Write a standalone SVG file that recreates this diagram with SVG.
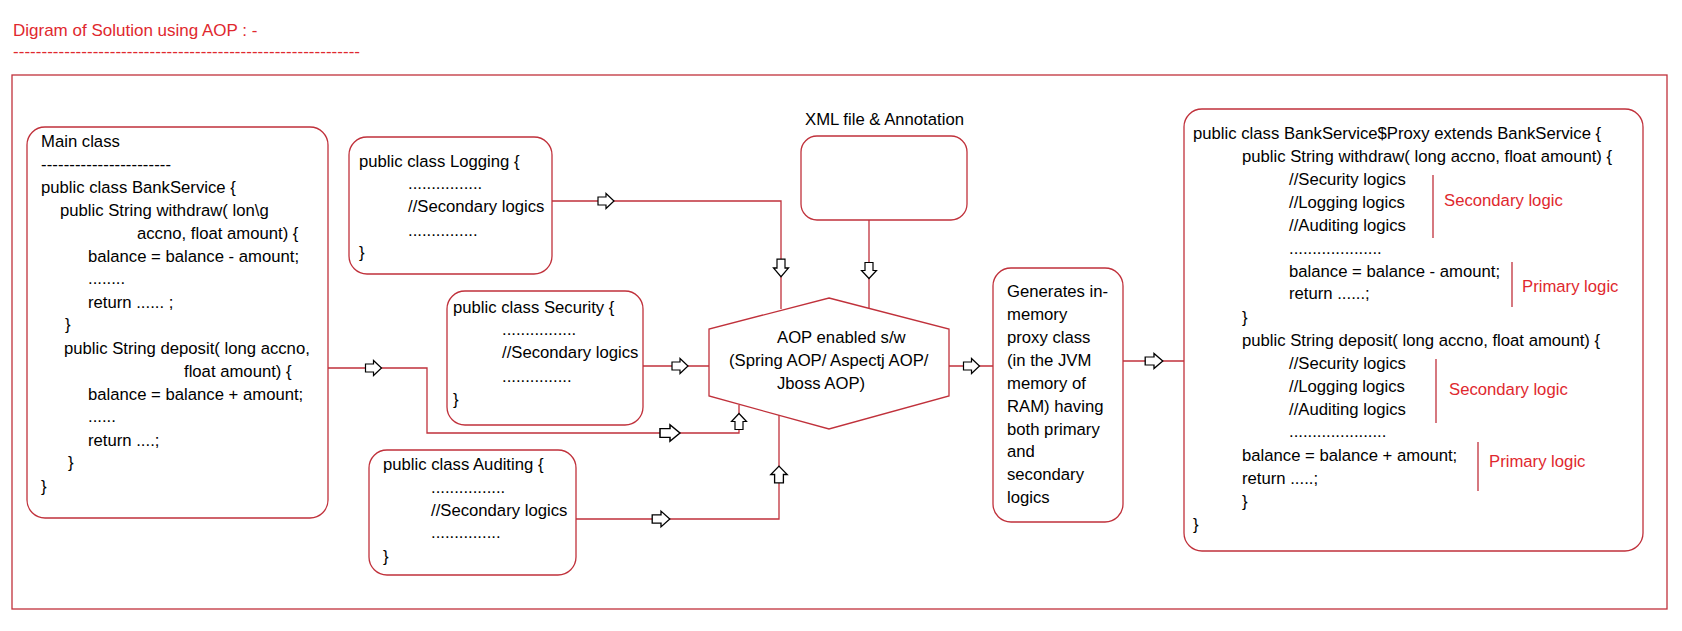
<svg xmlns="http://www.w3.org/2000/svg" width="1682" height="631" viewBox="0 0 1682 631">
<style>
.bx{fill:#fff;stroke:#c0313b;stroke-width:1.3}
.ln{fill:none;stroke:#c0313b;stroke-width:1.3}
.t{font-family:"Liberation Sans",Arial,sans-serif;font-size:16.7px;fill:#000}
.r{fill:#e0282e}
.ttl{font-family:"Liberation Sans",Arial,sans-serif;font-size:17px;fill:#e0282e}
.ar{fill:#fff;stroke:#000;stroke-width:1.2}
</style>
<defs>
<path id="arr" d="M-8,-4 H0 V-7.5 L8,0 L0,7.5 V4 H-8 Z"/>
</defs>
<rect width="1682" height="631" fill="#fff"/>
<g id="title">
<text class="ttl" x="13" y="36">Digram of Solution using AOP : -</text>
<text class="ttl" x="13" y="57" textLength="347" lengthAdjust="spacing">-------------------------------------------------------------</text>
</g>
<rect id="frame" class="ln" x="12" y="75" width="1655" height="534"/>
<g id="connectors">
<polyline class="ln" points="328,368 427,368 427,433 739,433 739,405"/>
<polyline class="ln" points="576,519 779,519 779,415"/>
<polyline class="ln" points="552,201 781,201 781,309"/>
<line class="ln" x1="869" y1="220" x2="869" y2="308"/>
<line class="ln" x1="643" y1="366" x2="709" y2="366"/>
<line class="ln" x1="949" y1="366" x2="993" y2="366"/>
<line class="ln" x1="1123" y1="361" x2="1184" y2="361"/>
<use href="#arr" class="ar" transform="translate(373.5,368)"/>
<use href="#arr" class="ar" transform="translate(670,433) scale(1.25,1.1)"/>
<use href="#arr" class="ar" transform="translate(739,421.5) rotate(-90)"/>
<use href="#arr" class="ar" transform="translate(661,519) scale(1.1,1.05)"/>
<use href="#arr" class="ar" transform="translate(779,474.5) rotate(-90) scale(1.05,1.1)"/>
<use href="#arr" class="ar" transform="translate(606,201)"/>
<use href="#arr" class="ar" transform="translate(781,268) rotate(90) scale(1.1,1)"/>
<use href="#arr" class="ar" transform="translate(869,270.5) rotate(90)"/>
<use href="#arr" class="ar" transform="translate(680,366)"/>
<use href="#arr" class="ar" transform="translate(971.5,366)"/>
<use href="#arr" class="ar" transform="translate(1154,361) scale(1.1,1)"/>
</g>
<g id="main">
<rect class="bx" x="27" y="127" width="301" height="391" rx="18"/>
<text class="t" x="41" y="147">Main class</text>
<text class="t" x="41" y="170" textLength="130" lengthAdjust="spacing">-----------------------</text>
<text class="t" x="41" y="193">public class BankService {</text>
<text class="t" x="60" y="216">public String withdraw( lon\g</text>
<text class="t" x="137" y="239">accno, float amount) {</text>
<text class="t" x="88" y="262">balance = balance - amount;</text>
<text class="t" x="88" y="284">........</text>
<text class="t" x="88" y="308">return ...... ;</text>
<text class="t" x="65" y="330">}</text>
<text class="t" x="64" y="354">public String deposit( long accno,</text>
<text class="t" x="184" y="377">float amount) {</text>
<text class="t" x="88" y="400">balance = balance + amount;</text>
<text class="t" x="88" y="422">......</text>
<text class="t" x="88" y="446">return ....;</text>
<text class="t" x="68" y="468">}</text>
<text class="t" x="41" y="492">}</text>
</g>
<g id="logging">
<rect class="bx" x="349" y="137" width="203" height="137" rx="18"/>
<text class="t" x="359" y="167">public class Logging {</text>
<text class="t" x="408" y="189">................</text>
<text class="t" x="408" y="212">//Secondary logics</text>
<text class="t" x="408" y="236">...............</text>
<text class="t" x="359" y="258">}</text>
</g>
<g id="security">
<rect class="bx" x="447" y="291" width="196" height="134" rx="18"/>
<text class="t" x="453" y="313">public class Security {</text>
<text class="t" x="502" y="335">................</text>
<text class="t" x="502" y="358">//Secondary logics</text>
<text class="t" x="502" y="382">...............</text>
<text class="t" x="453" y="405">}</text>
</g>
<g id="auditing">
<rect class="bx" x="369" y="450" width="207" height="125" rx="18"/>
<text class="t" x="383" y="470">public class Auditing {</text>
<text class="t" x="431" y="493">................</text>
<text class="t" x="431" y="516">//Secondary logics</text>
<text class="t" x="431" y="538">...............</text>
<text class="t" x="383" y="562">}</text>
</g>
<g id="xml">
<text class="t" x="805" y="125">XML file &amp; Annotation</text>
<rect class="bx" x="801" y="136" width="166" height="84" rx="16"/>
</g>
<g id="aop">
<polygon class="bx" points="829,298 949,329 949,396 829,429 709,396 709,329"/>
<text class="t" x="777" y="343">AOP enabled s/w</text>
<text class="t" x="729" y="366">(Spring AOP/ Aspectj AOP/</text>
<text class="t" x="777" y="389">Jboss AOP)</text>
</g>
<g id="generates">
<rect class="bx" x="993" y="268" width="130" height="254" rx="18"/>
<text class="t" x="1007" y="297">Generates in-</text>
<text class="t" x="1007" y="320">memory</text>
<text class="t" x="1007" y="343">proxy class</text>
<text class="t" x="1007" y="366">(in the JVM</text>
<text class="t" x="1007" y="389">memory of</text>
<text class="t" x="1007" y="412">RAM) having</text>
<text class="t" x="1007" y="435">both primary</text>
<text class="t" x="1007" y="457">and</text>
<text class="t" x="1007" y="480">secondary</text>
<text class="t" x="1007" y="503">logics</text>
</g>
<g id="proxy">
<rect class="bx" x="1184" y="109" width="459" height="442" rx="18"/>
<text class="t" x="1193" y="139">public class BankService$Proxy extends BankService {</text>
<text class="t" x="1242" y="162">public String withdraw( long accno, float amount) {</text>
<text class="t" x="1289" y="185">//Security logics</text>
<text class="t" x="1289" y="208">//Logging logics</text>
<text class="t" x="1289" y="231">//Auditing logics</text>
<text class="t" x="1289" y="254">....................</text>
<text class="t" x="1289" y="277">balance = balance - amount;</text>
<text class="t" x="1289" y="299">return ......;</text>
<text class="t" x="1242" y="323">}</text>
<text class="t" x="1242" y="346">public String deposit( long accno, float amount) {</text>
<text class="t" x="1289" y="369">//Security logics</text>
<text class="t" x="1289" y="392">//Logging logics</text>
<text class="t" x="1289" y="415">//Auditing logics</text>
<text class="t" x="1289" y="437">.....................</text>
<text class="t" x="1242" y="461">balance = balance + amount;</text>
<text class="t" x="1242" y="484">return .....;</text>
<text class="t" x="1242" y="507">}</text>
<text class="t" x="1193" y="530">}</text>
<line class="ln" x1="1433" y1="175" x2="1433" y2="238"/>
<text class="t r" x="1444" y="206">Secondary logic</text>
<line class="ln" x1="1512" y1="262" x2="1512" y2="307"/>
<text class="t r" x="1522" y="292">Primary logic</text>
<line class="ln" x1="1436" y1="359" x2="1436" y2="423"/>
<text class="t r" x="1449" y="395">Secondary logic</text>
<line class="ln" x1="1478" y1="442" x2="1478" y2="491"/>
<text class="t r" x="1489" y="467">Primary logic</text>
</g>
</svg>
